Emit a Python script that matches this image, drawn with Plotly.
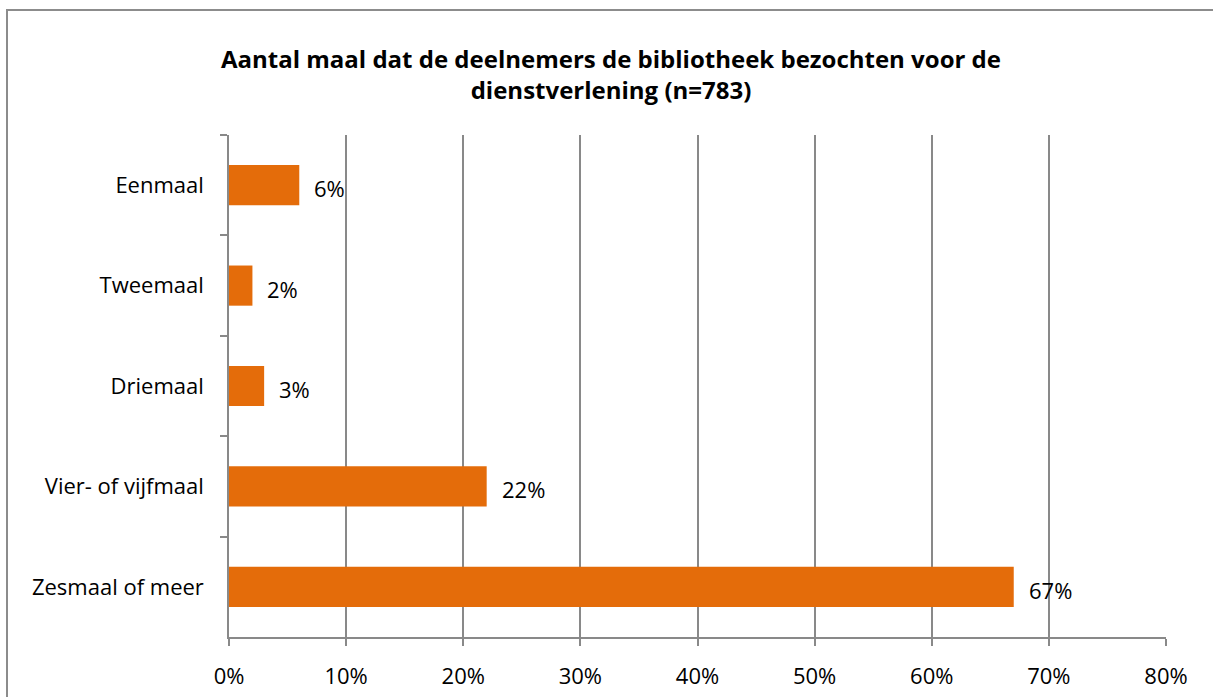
import plotly.graph_objects as go

categories = ["Eenmaal", "Tweemaal", "Driemaal", "Vier- of vijfmaal", "Zesmaal of meer"]
values = [6, 2, 3, 22, 67]
labels = ["6%", "2%", "3%", "22%", "67%"]
x_ticks = [0, 10, 20, 30, 40, 50, 60, 70, 80]
x_tick_labels = ["0%", "10%", "20%", "30%", "40%", "50%", "60%", "70%", "80%"]
title = "Aantal maal dat de deelnemers de bibliotheek bezochten voor de<br>dienstverlening (n=783)"

FONT = "'Open Sans', Lato, sans-serif"
ORANGE = "#E46C0A"
GRID = "#898989"
FS = 22

fig = go.Figure()
fig.add_trace(go.Bar(
    y=categories, x=values, orientation="h",
    marker=dict(color=ORANGE, line=dict(width=0)),
    width=0.4, showlegend=False, hoverinfo="skip",
))
for c, v, t in zip(categories, values, labels):
    fig.add_annotation(x=v, y=c, text=t, showarrow=False, xanchor="left",
                       xshift=13, yshift=-3, font=dict(family=FONT, size=FS, color="#000"))

L, R, T, B = 229, 47, 135, 60
W, H = 1213, 697
pw, ph = W - L - R, H - T - B
fig.add_shape(type="rect", xref="paper", yref="paper",
              x0=(7 - L) / pw, x1=(1225 - L) / pw,
              y0=-0.3, y1=(H - B - 10) / ph,
              line=dict(color="#8c8c8c", width=2), fillcolor="rgba(0,0,0,0)", layer="below")

fig.update_layout(
    width=W, height=H,
    margin=dict(l=L, r=R, t=T, b=B, autoexpand=False),
    paper_bgcolor="white", plot_bgcolor="white",
    title=dict(text=title, x=611 / W, xanchor="center", y=1 - 68 / H, yanchor="middle",
               font=dict(family=FONT, size=24, color="#000", weight="bold")),
    font=dict(family=FONT, size=FS, color="#000"),
    bargap=0.6,
)
fig.update_xaxes(range=[0, 80], tickvals=x_ticks, ticktext=x_tick_labels,
                 showgrid=True, gridcolor=GRID, gridwidth=1.5,
                 showline=True, linecolor=GRID, linewidth=1.5,
                 ticks="outside", ticklen=7, tickcolor=GRID, tickwidth=1.5,
                 ticklabelstandoff=12, automargin=False,
                 zeroline=False, tickfont=dict(family=FONT, size=FS))
fig.update_yaxes(autorange="reversed", showgrid=False,
                 showline=True, linecolor=GRID, linewidth=1.5,
                 ticks="outside", ticklen=7, tickcolor=GRID, tickwidth=1.5,
                 tickson="boundaries", ticklabelstandoff=19, automargin=False,
                 tickfont=dict(family=FONT, size=FS))

fig.write_html("out.html", config={"displayModeBar": False},
               post_script="document.body.style.margin='0';document.body.style.overflow='hidden';")
